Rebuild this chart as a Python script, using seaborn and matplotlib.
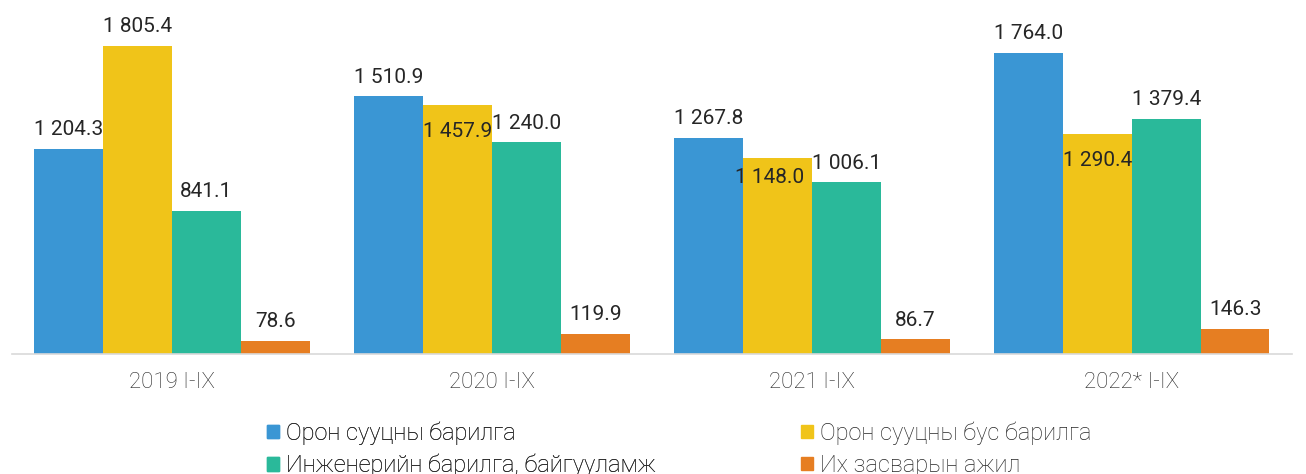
import numpy as np
import pandas as pd
import matplotlib
matplotlib.use("Agg")
import matplotlib.pyplot as plt
import seaborn as sns
from matplotlib.patches import Patch

# data
years = ["2019 I-IX", "2020 I-IX", "2021 I-IX", "2022* I-IX"]
series = ["Орон сууцны барилга", "Орон сууцны бус барилга",
          "Инженерийн барилга, байгууламж", "Их засварын ажил"]
housing = [1204.3, 1510.9, 1267.8, 1764.0]
non_housing = [1805.4, 1457.9, 1148.0, 1290.4]
engineering = [841.1, 1240.0, 1006.1, 1379.4]
repair = [78.6, 119.9, 86.7, 146.3]

colors = ["#3A96D4", "#F0C419", "#2AB99A", "#E67E22"]

rows = []
for name, vals in zip(series, [housing, non_housing, engineering, repair]):
    for y, v in zip(years, vals):
        rows.append({"year": y, "series": name, "value": v})
df = pd.DataFrame(rows)

sns.set_style("white")
plt.rcParams["font.family"] = ["Roboto", "DejaVu Sans"]
plt.rcParams["font.weight"] = "normal"
txt = "#262626"

fig = plt.figure(figsize=(13.06, 4.74), dpi=100)
ax = fig.add_axes([0.0092, 0.253, 0.98, 0.72])

sns.barplot(data=df, x="year", y="value", hue="series", hue_order=series,
            palette=colors, width=0.86, gap=0, saturation=1, linewidth=0,
            ax=ax, legend=False)

ax.set_xlim(-0.5, 3.5)
ax.set_ylim(0, 2000)
ax.set_xlabel("")
ax.set_ylabel("")
ax.set_yticks([])
for s in ["top", "left", "right"]:
    ax.spines[s].set_visible(False)
ax.spines["bottom"].set_color("#D9D9D9")
ax.spines["bottom"].set_linewidth(1.2)
ax.tick_params(axis="x", length=0, pad=13, labelsize=16, colors=txt)
for lbl in ax.get_xticklabels():
    lbl.set_fontweight("light")

def fmt(v):
    s = f"{v:,.1f}"
    return s.replace(",", " ")

# label offsets in points (dx, dy); yellow labels sit inside bars where they collide
offsets = {
    (1, 1): (0, -19),
    (2, 1): (-6, -14),
    (3, 1): (0, -19),
}

for si, cont in enumerate(ax.containers):
    for yi, bar in enumerate(cont):
        v = bar.get_height()
        x = bar.get_x() + bar.get_width() / 2
        dx, dy = offsets.get((yi, si), (0, 7))
        va = "bottom" if dy > 0 else "center"
        ax.annotate(fmt(v), (x, v), xytext=(dx, dy), textcoords="offset points",
                    ha="center", va=va, fontsize=15, color=txt,
                    fontweight="normal")

# two legend columns placed separately
leg_kw = dict(loc="upper left", frameon=False, fontsize=17,
              handlelength=0.5, handleheight=0.5, handletextpad=0.3,
              labelspacing=0.38, borderaxespad=0, borderpad=0, labelcolor=txt,
              prop={"size": 17, "weight": "light"})
leg_kw.pop("fontsize")
leg1 = fig.legend([Patch(color=colors[0]), Patch(color=colors[2])],
                  [series[0], series[2]], bbox_to_anchor=(267 / 1306, 0.111),
                  **leg_kw)
fig.add_artist(leg1)
fig.legend([Patch(color=colors[1]), Patch(color=colors[3])],
           [series[1], series[3]], bbox_to_anchor=(801 / 1306, 0.111),
           **leg_kw)

fig.savefig("out.png", dpi=100)
